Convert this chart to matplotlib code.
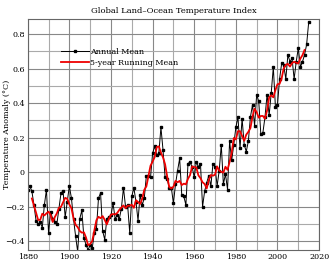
import numpy as np
import pandas as pd
import matplotlib
matplotlib.use('Agg')
import matplotlib.pyplot as plt
from matplotlib.ticker import MultipleLocator

years = list(range(1880, 2016))
annual_mean = [
    -0.10, -0.08, -0.11, -0.19, -0.28, -0.30, -0.29, -0.32, -0.19, -0.10,
    -0.35, -0.23, -0.27, -0.29, -0.30, -0.21, -0.12, -0.11, -0.26, -0.17,
    -0.08, -0.15, -0.27, -0.37, -0.46, -0.27, -0.22, -0.38, -0.42, -0.45,
    -0.42, -0.44, -0.35, -0.33, -0.15, -0.12, -0.34, -0.39, -0.27, -0.26,
    -0.25, -0.18, -0.27, -0.25, -0.27, -0.21, -0.09, -0.20, -0.19, -0.35,
    -0.14, -0.09, -0.17, -0.28, -0.13, -0.19, -0.15, -0.02, -0.02, -0.03,
    0.11, 0.15, 0.10, 0.11, 0.26, 0.13, -0.03, -0.04, -0.09, -0.09,
    -0.18, -0.07, 0.01, 0.08, -0.13, -0.14, -0.19, 0.05, 0.06, 0.03,
    -0.03, 0.06, 0.03, 0.05, -0.20, -0.11, -0.06, -0.02, -0.08, 0.05,
    0.03, -0.08, 0.01, 0.16, -0.07, -0.01, -0.10, 0.18, 0.07, 0.16,
    0.26, 0.32, 0.14, 0.31, 0.16, 0.12, 0.18, 0.32, 0.39, 0.27,
    0.45, 0.41, 0.22, 0.23, 0.32, 0.45, 0.33, 0.46, 0.61, 0.38,
    0.39, 0.54, 0.63, 0.62, 0.54, 0.68, 0.64, 0.66, 0.54, 0.64,
    0.72, 0.61, 0.64, 0.68, 0.74, 0.87,
]

# 5-year running mean, centred
running_mean = pd.Series(annual_mean, index=years).rolling(5, center=True).mean()

plt.rcParams['font.family'] = 'DejaVu Serif'

fig = plt.figure(figsize=(3.3, 2.62), dpi=100)
ax = fig.add_axes([0.084, 0.046, 0.883, 0.883])

ax.plot(years, annual_mean, color='black', lw=0.7, marker='s', ms=1.8,
        label='Annual Mean')
ax.plot(running_mean.index, running_mean.values, color='#ee0000', lw=1.3,
        label='5-year Running Mean')

ax.set_xlim(1880, 2020)
ax.set_ylim(-0.45, 0.89)
ax.xaxis.set_major_locator(MultipleLocator(20))
ax.xaxis.set_minor_locator(MultipleLocator(10))
ax.yaxis.set_major_locator(MultipleLocator(0.2))
ax.yaxis.set_minor_locator(MultipleLocator(0.1))
ax.yaxis.set_major_formatter(plt.FuncFormatter(
    lambda v, p: '0' if abs(v) < 1e-9 else ('%.1f' % v).replace('-', '\u2212')))
ax.grid(which='major', color='#888888', lw=0.8)
ax.grid(which='minor', color='#aaaaaa', lw=0.8)
ax.set_axisbelow(True)
ax.tick_params(which='both', length=0, labelsize=5.8, pad=2)
for s in ax.spines.values():
    s.set_color('#666666')
    s.set_linewidth(0.8)

ax.set_title('Global Land\u2013Ocean Temperature Index', fontsize=6, pad=4)
ax.set_ylabel('Temperature Anomaly (\u00b0C)', fontsize=5.8)
ax.yaxis.set_label_coords(-0.058, 0.5)
ax.legend(loc='upper left', bbox_to_anchor=(0.1, 0.89), frameon=False,
          fontsize=5.8, handlelength=3.5, handletextpad=0.1, borderpad=0,
          labelspacing=0.35)

fig.savefig('out.png', dpi=100)
